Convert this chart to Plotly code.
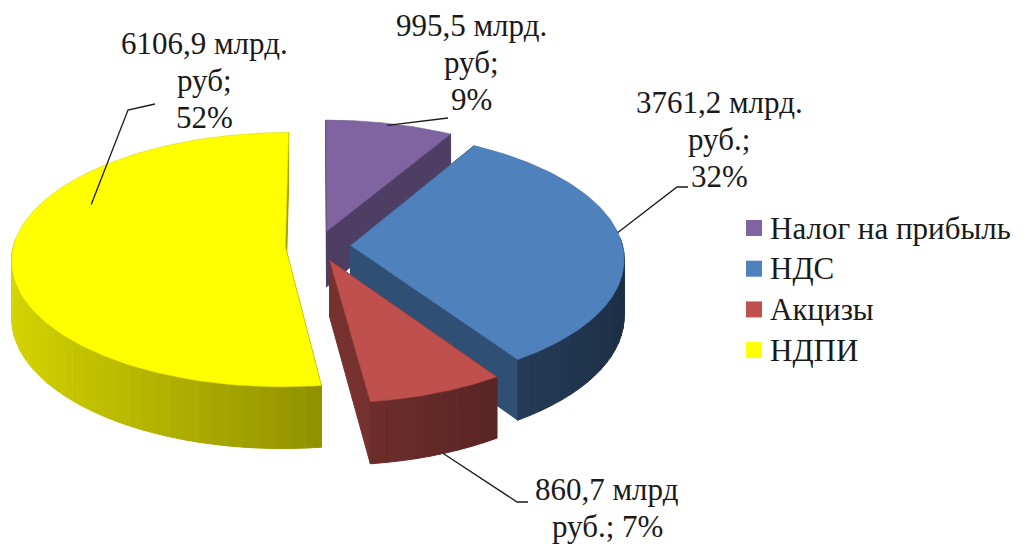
import numpy as np
import plotly.graph_objects as go

# ---------------- data ----------------
categories = ["Налог на прибыль", "НДС", "Акцизы", "НДПИ"]
values = [995.5, 3761.2, 860.7, 6106.9]
label_lines = [
    ["995,5 млрд.", "руб;", "9%"],
    ["3761,2 млрд.", "руб.;", "32%"],
    ["860,7 млрд", "руб.; 7%"],
    ["6106,9 млрд.", "руб;", "52%"],
]

# ---------------- style ----------------
colors_top = ["#8064A2", "#4F81BD", "#C0504D", "#FFFF00"]
FONT = "Liberation Serif, Times New Roman, serif"
TXT = "#1a1a1a"
FS = 31
W, H = 1030, 546
CX, CY = 318, 246          # pie centre (px)
RX, RY = 272, 127          # ellipse radii (px)
DEPTH = 56                 # thickness (px)
PERSP = 0.10               # pseudo perspective
PULL = 0.12                # explosion (fraction of radius)

# label layout: (x centre, first line y, line step)
label_pos = [(471, 25, 37), (719, 102, 37), (607, 489, 37), (204, 43, 37)]
# leader line: (angle on slice, radius, bottom face?, elbow, end)
leaders = [
    (15, 0.98, 0, (448, 118), (448, 118)),
    (84, 1.0, 0, (677, 187), (688, 187)),
    (158, 1.0, 1, (517, 502), (528, 502)),
    (295, 0.82, 0, (128, 110), (155, 104)),
]
# legend layout
LEG_KEY_X, LEG_TXT_X = 754, 768
LEG_Y0, LEG_STEP = 228, 40.7
LEG_KEY_SIZE = 16


def hex2rgb(h):
    h = h.lstrip("#")
    return tuple(int(h[i:i + 2], 16) for i in (0, 2, 4))


def shade(h, k):
    r, g, b = hex2rgb(h)
    return "rgb(%d,%d,%d)" % (min(255, r * k), min(255, g * k), min(255, b * k))


def proj(u, v, z):
    f = 1 - PERSP * v
    return CX + u * RX * f, CY - v * RY * f + z * DEPTH * f


total = sum(values)
bounds = np.concatenate([[0], np.cumsum(values)]) / total * 360.0

slices = []
for i, cat in enumerate(categories):
    t1, t2 = bounds[i], bounds[i + 1]
    tm = np.radians((t1 + t2) / 2)
    ou, ov = PULL * np.sin(tm), PULL * np.cos(tm)
    slices.append(dict(i=i, t1=t1, t2=t2, ou=ou, ov=ov))


def pt(s, theta, r, z):
    t = np.radians(theta)
    return proj(s["ou"] + r * np.sin(t), s["ov"] + r * np.cos(t), z)


fig = go.Figure()


def poly(points, fill, name, line=None, lw=1.0):
    xs = [p[0] for p in points] + [points[0][0]]
    ys = [p[1] for p in points] + [points[0][1]]
    fig.add_trace(go.Scatter(
        x=xs, y=ys, mode="lines", fill="toself", fillcolor=fill,
        line=dict(color=line or fill, width=lw), name=name,
        hoverinfo="skip", showlegend=False,
    ))


# back-to-front drawing of the exploded 3-D pie
for s in sorted(slices, key=lambda d: -d["ov"]):
    c = colors_top[s["i"]]
    name = categories[s["i"]]
    # radial walls
    for te in (s["t1"], s["t2"]):
        poly([pt(s, te, 0, 0), pt(s, te, 1, 0), pt(s, te, 1, 1), pt(s, te, 0, 1)],
             shade(c, 0.62), name)
    # outer wall, shaded segments on the front half
    n = max(6, int((s["t2"] - s["t1"]) / 3) + 1)
    th = np.linspace(s["t1"], s["t2"], n + 1)
    for a, b in zip(th[:-1], th[1:]):
        m = np.radians((a + b) / 2)
        if np.cos(m) > 0.08:
            continue
        k = 0.60 + 0.24 * (-np.sin(m))
        poly([pt(s, a, 1, 0), pt(s, b, 1, 0), pt(s, b, 1, 1), pt(s, a, 1, 1)],
             shade(c, k), name)
    # top face
    arc = [pt(s, t, 1, 0) for t in np.linspace(s["t1"], s["t2"], 120)]
    poly([pt(s, 0, 0, 0)] + arc, c, name, line=shade(c, 0.85), lw=0.6)

# leader lines
for s, (ang, r, z, elbow, end) in zip(slices, leaders):
    ax_, ay_ = pt(s, ang, r, z)
    fig.add_trace(go.Scatter(
        x=[ax_, elbow[0], end[0]], y=[ay_, elbow[1], end[1]], mode="lines",
        line=dict(color="#1a1a1a", width=1.3), hoverinfo="skip", showlegend=False,
    ))

# data labels
for lines, (lx, ly, step) in zip(label_lines, label_pos):
    for j, txt in enumerate(lines):
        fig.add_annotation(
            x=lx, y=ly + j * step, xref="x", yref="y", text=txt, showarrow=False,
            xanchor="center", yanchor="middle",
            font=dict(family=FONT, size=FS, color=TXT),
        )

# legend (keys + texts)
leg_y = [LEG_Y0 + i * LEG_STEP for i in range(len(categories))]
fig.add_trace(go.Scatter(
    x=[LEG_KEY_X] * len(categories), y=leg_y, mode="markers",
    marker=dict(symbol="square", size=LEG_KEY_SIZE, color=colors_top,
                line=dict(width=0)),
    hoverinfo="skip", showlegend=False,
))
for cat, yy in zip(categories, leg_y):
    fig.add_annotation(
        x=LEG_TXT_X, y=yy, xref="x", yref="y", text=cat, showarrow=False,
        xanchor="left", yanchor="middle",
        font=dict(family=FONT, size=FS, color=TXT),
    )

fig.update_layout(
    width=W, height=H,
    paper_bgcolor="white", plot_bgcolor="white",
    margin=dict(l=0, r=0, t=0, b=0),
    xaxis=dict(range=[0, W], visible=False, fixedrange=True),
    yaxis=dict(range=[H, 0], visible=False, fixedrange=True),
    font=dict(family=FONT, size=FS, color=TXT),
    showlegend=False,
)

fig.write_html("out.html")
